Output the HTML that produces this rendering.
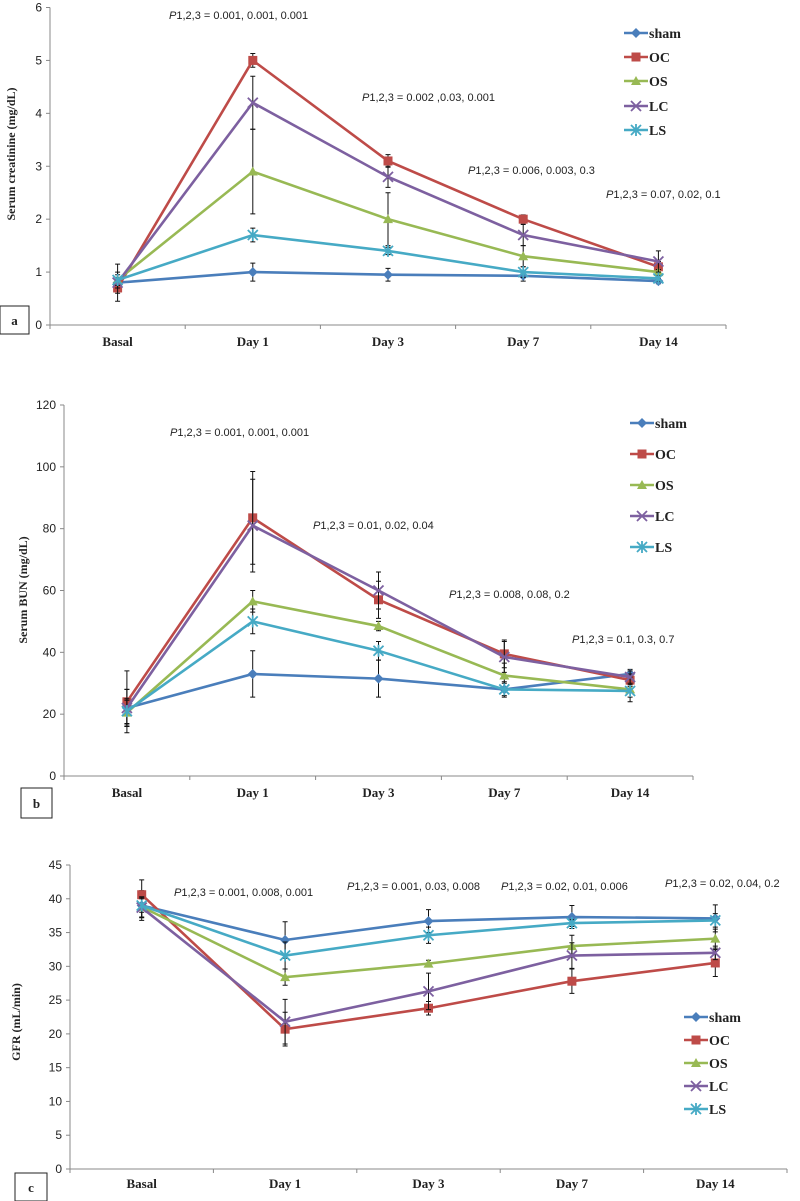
<!DOCTYPE html>
<html><head><meta charset="utf-8"><style>
html,body{margin:0;padding:0;background:#fff;}
svg{display:block;}
.tick{font-family:"Liberation Sans Narrow","Liberation Sans",sans-serif;font-size:12px;fill:#222;}
.cat{font-family:"Liberation Serif",serif;font-weight:bold;font-size:13px;fill:#222;}
.ytitle{font-family:"Liberation Serif",serif;font-weight:bold;font-size:12px;fill:#222;}
.leg{font-family:"Liberation Serif",serif;font-weight:bold;font-size:14px;fill:#222;}
.pt{font-family:"Liberation Sans Narrow","Liberation Sans",sans-serif;font-size:11px;fill:#222;}
.box{font-family:"Liberation Serif",serif;font-weight:bold;font-size:13px;fill:#222;}
</style></head><body>
<svg id="chart" width="800" height="1201" viewBox="0 0 800 1201" xmlns="http://www.w3.org/2000/svg"></svg>
<script>
const categories = ["Basal","Day 1","Day 3","Day 7","Day 14"];
const seriesNames = ["sham","OC","OS","LC","LS"];
// Panel a: serum creatinine
const creatSham = [0.8,1.0,0.95,0.93,0.83];
const creatOC = [0.7,5.0,3.1,2.0,1.1];
const creatOS = [0.85,2.9,2.0,1.3,1.0];
const creatLC = [0.8,4.2,2.8,1.7,1.2];
const creatLS = [0.85,1.7,1.4,1.0,0.88];
const creatErrSham = [0.1,0.17,0.12,0.1,0.05];
const creatErrOC = [0.1,0.13,0.12,0.08,0.1];
const creatErrOS = [0.15,0.8,0.5,0.2,0.05];
const creatErrLC = [0.35,0.5,0.2,0.2,0.2];
const creatErrLS = [0.1,0.13,0.07,0.1,0.05];
const creatTicks = [0,1,2,3,4,5,6];
const creatP = ["0.001, 0.001, 0.001","0.002 ,0.03, 0.001","0.006, 0.003, 0.3","0.07, 0.02, 0.1"];
// Panel b: serum BUN
const bunSham = [22,33,31.5,28,33];
const bunOC = [24,83.5,57,39.5,31];
const bunOS = [20.5,56.5,48.5,32.5,28];
const bunLC = [22,81,60,38.5,32];
const bunLS = [21,50,40.5,28,27.5];
const bunErrSham = [6,7.5,6,2.5,1.5];
const bunErrOC = [10,15,6,4.5,2];
const bunErrOS = [4,3.5,1.5,4,4];
const bunErrLC = [6,15,6,5,2];
const bunErrLS = [4,4,3,2,2];
const bunTicks = [0,20,40,60,80,100,120];
const bunP = ["0.001, 0.001, 0.001","0.01, 0.02, 0.04","0.008, 0.08, 0.2","0.1, 0.3, 0.7"];
// Panel c: GFR
const gfrSham = [39,33.9,36.7,37.3,37.1];
const gfrOC = [40.6,20.7,23.8,27.8,30.5];
const gfrOS = [38.8,28.4,30.4,33.0,34.1];
const gfrLC = [38.7,21.8,26.3,31.6,32.0];
const gfrLS = [39.0,31.6,34.6,36.4,36.8];
const gfrErrSham = [2.2,2.7,1.7,1.7,2];
const gfrErrOC = [2.2,2.5,1,1.8,2];
const gfrErrOS = [1.5,1.2,0.5,1.6,1.4];
const gfrErrLC = [1.5,3.3,2.7,1.9,1];
const gfrErrLS = [1,2,1.2,0.5,1];
const gfrTicks = [0,5,10,15,20,25,30,35,40,45];
const gfrP = ["0.001, 0.008, 0.001","0.001, 0.03, 0.008","0.02, 0.01, 0.006","0.02, 0.04, 0.2"];

const colors = ["#4a7ebb","#be4b48","#98b954","#7d60a0","#46aac5"];
const NS = "http://www.w3.org/2000/svg";
const svg = document.getElementById("chart");
function mk(tag, attrs, parent){const e=document.createElementNS(NS,tag);for(const k in attrs)e.setAttribute(k,attrs[k]);(parent||svg).appendChild(e);return e;}

function marker(g, idx, x, y, c){
  let m;
  if(idx===0){m=mk("polygon",{points:`${x},${y-5} ${x+5},${y} ${x},${y+5} ${x-5},${y}`,fill:c},g);}
  else if(idx===1){m=mk("rect",{x:x-4.5,y:y-4.5,width:9,height:9,fill:c},g);}
  else if(idx===2){m=mk("polygon",{points:`${x},${y-5} ${x+5},${y+4} ${x-5},${y+4}`,fill:c},g);}
  else if(idx===3){m=mk("path",{d:`M${x-5} ${y-5}L${x+5} ${y+5}M${x-5} ${y+5}L${x+5} ${y-5}`,stroke:c,"stroke-width":1.8},g);}
  else {m=mk("path",{d:`M${x-5} ${y-5}L${x+5} ${y+5}M${x-5} ${y+5}L${x+5} ${y-5}M${x} ${y-6}L${x} ${y+6}`,stroke:c,"stroke-width":1.8},g);}
  return m;
}

function panel(cfg){
  const g = mk("g",{});
  
  
  const ymax = cfg.ticks[cfg.ticks.length-1];
  const yS = v => cfg.y0 - (v/ymax)*(cfg.y0-cfg.yTop);
  const step = (cfg.xEnd-cfg.x0)/categories.length;
  const xS = i => cfg.x0 + step*(i+0.5);
  // axes
  const ya = mk("line",{x1:cfg.x0,y1:cfg.yTop,x2:cfg.x0,y2:cfg.y0,stroke:"#888","stroke-width":1},g);
  
  
  const xa = mk("line",{x1:cfg.x0,y1:cfg.y0,x2:cfg.xEnd,y2:cfg.y0,stroke:"#888","stroke-width":1},g);
  
  
  cfg.ticks.forEach(t=>{
    const y=yS(t);
    mk("line",{x1:cfg.x0-4,y1:y,x2:cfg.x0,y2:y,stroke:"#888"},g);
    const tx=mk("text",{x:cfg.x0-8,y:y+4,"text-anchor":"end",class:"tick"},g);
    tx.textContent=t;
    
    
  });
  for(let i=0;i<=categories.length;i++){
    const x=cfg.x0+step*i;
    mk("line",{x1:x,y1:cfg.y0,x2:x,y2:cfg.y0+4,stroke:"#888"},g);
  }
  categories.forEach((c,i)=>{
    const t=mk("text",{x:xS(i),y:cfg.catY,"text-anchor":"middle",class:"cat"},g);
    t.textContent=c;
    
    
  });
  const yt=mk("text",{x:0,y:0,transform:`translate(${cfg.titleX},${cfg.titleY}) rotate(-90)`,"text-anchor":"middle",class:"ytitle"},g);
  yt.textContent=cfg.title;
  
  
  // series
  cfg.series.forEach((vals,si)=>{
    const sg=mk("g",{},g);
    
    
    const errs=cfg.errs[si];
    vals.forEach((v,i)=>{
      const x=xS(i), y1=yS(v+errs[i]), y2=yS(v-errs[i]);
      const e=mk("path",{d:`M${x} ${y1}L${x} ${y2}M${x-2.5} ${y1}L${x+2.5} ${y1}M${x-2.5} ${y2}L${x+2.5} ${y2}`,stroke:"#111","stroke-width":1,fill:"none"},sg);
      
      
    });
    const pts=vals.map((v,i)=>`${xS(i)},${yS(v)}`).join(" ");
    const l=mk("polyline",{points:pts,fill:"none",stroke:colors[si],"stroke-width":2.6},sg);
    
    
    vals.forEach((v,i)=>{
      const m=marker(sg,si,xS(i),yS(v),colors[si]);
      
      
    });
  });
  // legend
  const lg=mk("g",{},g);
  
  
  seriesNames.forEach((n,si)=>{
    const y=cfg.legY[si];
    const eg=mk("g",{},lg);
    
    
    mk("line",{x1:cfg.legX-12,y1:y,x2:cfg.legX+12,y2:y,stroke:colors[si],"stroke-width":2.6},eg);
    marker(eg,si,cfg.legX,y,colors[si]);
    const t=mk("text",{x:cfg.legX+13,y:y+5,class:"leg"},eg);
    t.textContent=n;
  });
  // p-values
  cfg.p.forEach((p,i)=>{
    const t=mk("text",{x:cfg.pPos[i][0],y:cfg.pPos[i][1],class:"pt"},g);
    t.innerHTML='<tspan font-style="italic">P</tspan>1,2,3 = '+p;
    
    
  });
  // panel label box
  const b=mk("rect",{x:cfg.box[0],y:cfg.box[1],width:cfg.box[2],height:cfg.box[3],fill:"#fff",stroke:"#222","stroke-width":1},g);
  
  
  const bt=mk("text",{x:cfg.box[0]+cfg.box[2]/2,y:cfg.box[1]+cfg.box[3]/2+5,"text-anchor":"middle",class:"box"},g);
  bt.textContent=cfg.label;
  
  
}

panel({name:"panel-a-creatinine",x0:50,xEnd:726,yTop:7.5,y0:325,ticks:creatTicks,catY:346,
  title:"Serum creatinine (mg/dL)",titleX:15,titleY:154,
  series:[creatSham,creatOC,creatOS,creatLC,creatLS],
  errs:[creatErrSham,creatErrOC,creatErrOS,creatErrLC,creatErrLS],
  legX:636,legY:[33,57,81,106,130],
  p:creatP,pPos:[[169,19],[362,101],[468,174],[606,198]],
  box:[0,306,29,28],label:"a"});
panel({name:"panel-b-bun",x0:64,xEnd:693,yTop:405,y0:776,ticks:bunTicks,catY:797,
  title:"Serum BUN (mg/dL)",titleX:27,titleY:590,
  series:[bunSham,bunOC,bunOS,bunLC,bunLS],
  errs:[bunErrSham,bunErrOC,bunErrOS,bunErrLC,bunErrLS],
  legX:642,legY:[423,454,485,516,547],
  p:bunP,pPos:[[170,436],[313,529],[449,598],[572,643]],
  box:[21,788,31,30],label:"b"});
panel({name:"panel-c-gfr",x0:70,xEnd:787,yTop:865,y0:1169,ticks:gfrTicks,catY:1188,
  title:"GFR (mL/min)",titleX:20,titleY:1022,
  series:[gfrSham,gfrOC,gfrOS,gfrLC,gfrLS],
  errs:[gfrErrSham,gfrErrOC,gfrErrOS,gfrErrLC,gfrErrLS],
  legX:696,legY:[1017,1040,1063,1086,1109],
  p:gfrP,pPos:[[174,896],[347,890],[501,890],[665,887]],
  box:[15,1173,32,28],label:"c"});
</script>
</body></html>
